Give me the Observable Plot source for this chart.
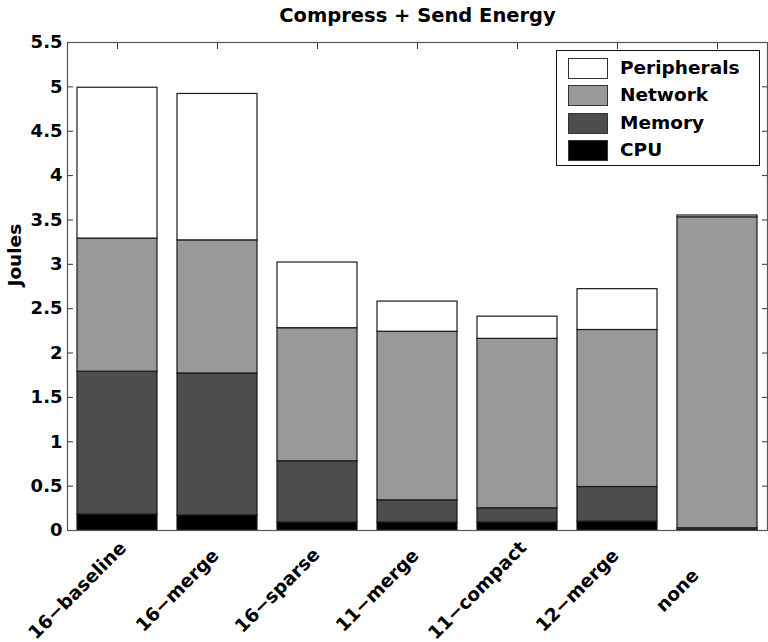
<!DOCTYPE html>
<html>
<head>
<meta charset="utf-8">
<script src="https://cdn.jsdelivr.net/npm/d3@7"></script>
<script src="https://cdn.jsdelivr.net/npm/@observablehq/plot@0.6"></script>
<style>
  html, body { margin: 0; padding: 0; background: #fff; }
  #wrap { position: relative; width: 768px; height: 642px; font-family: "DejaVu Sans", sans-serif; font-weight: bold; }
  #legend { position: absolute; left: 556px; top: 50px; width: 202px; height: 114px; border: 1px solid #111; background: #fff; }
  .sw { position: absolute; left: 11px; width: 38px; height: 19px; border: 1px solid #333; }
  .lb { position: absolute; left: 63px; font-size: 18.5px; line-height: 21px; color: #000; }
</style>
</head>
<body>
<div id="wrap"></div>
<script>
const title = "Compress + Send Energy";
const yLabel = "Joules";
const categories = ["16−baseline", "16−merge", "16−sparse", "11−merge", "11−compact", "12−merge", "none"];
const seriesNames = ["CPU", "Memory", "Network", "Peripherals"];
const seriesColors = ["#000000", "#4d4d4d", "#999999", "#ffffff"];
const cpu = [0.18, 0.17, 0.09, 0.09, 0.09, 0.10, 0.005];
const memory = [1.61, 1.60, 0.69, 0.25, 0.16, 0.39, 0.02];
const network = [1.50, 1.50, 1.50, 1.90, 1.91, 1.77, 3.505];
const peripherals = [1.70, 1.65, 0.74, 0.34, 0.25, 0.46, 0.02];
const yTicks = [0, 0.5, 1, 1.5, 2, 2.5, 3, 3.5, 4, 4.5, 5, 5.5];

const seriesValues = [cpu, memory, network, peripherals];
const data = [];
seriesNames.forEach((s, si) => {
  categories.forEach((c, ci) => data.push({category: c, series: s, value: seriesValues[si][ci]}));
});

const chart = Plot.plot({
  width: 768,
  height: 642,
  marginTop: 42,
  marginBottom: 112,
  marginLeft: 67,
  marginRight: 1,
  style: {fontFamily: "DejaVu Sans, sans-serif", fontWeight: "bold", color: "#000", background: "#fff"},
  x: {domain: categories, paddingInner: 0.2, paddingOuter: 0.1, label: null},
  y: {domain: [0, 5.5], label: null},
  color: {domain: seriesNames, range: seriesColors},
  marks: [
    Plot.axisX({anchor: "bottom", tickSize: -6, fill: "none", stroke: "#333", label: null}),
    Plot.barY(data, {x: "category", y: "value", fill: "series", stroke: "#1a1a1a", strokeWidth: 1.2}),
    Plot.axisX({anchor: "top", tickSize: -6, fill: "none", stroke: "#333", label: null}),
    Plot.axisY({anchor: "left", ticks: yTicks, tickSize: -6, fill: "none", stroke: "#333", label: null}),
    Plot.axisY({anchor: "right", ticks: yTicks, tickSize: -6, fill: "none", stroke: "#333", label: null}),
    Plot.axisY({anchor: "left", ticks: yTicks, tickSize: 0, tickPadding: 5, fontSize: 18, tickFormat: d => String(d), label: null}),
    Plot.axisX({anchor: "bottom", tickSize: 0, tickPadding: 0, tickRotate: -45, textAnchor: "middle", lineAnchor: "middle", dx: -40, dy: 60, fontSize: 18.5, label: null}),
    Plot.frame({stroke: "#555", strokeWidth: 1.2}),
    Plot.text([title], {frameAnchor: "top", text: d => d, lineAnchor: "bottom", dy: -20.5, fontSize: 19.5}),
    Plot.text([yLabel], {frameAnchor: "left", text: d => d, rotate: -90, lineAnchor: "bottom", dx: -47, fontSize: 18.5})
  ]
});

const wrap = document.getElementById("wrap");
wrap.appendChild(chart);

// legend inside the axes (top-right), top entry first
const legend = document.createElement("div");
legend.id = "legend";
const order = [3, 2, 1, 0];
const tops = [7, 34, 61.5, 89];
order.forEach((si, i) => {
  const sw = document.createElement("div");
  sw.className = "sw";
  sw.style.top = tops[i] + "px";
  sw.style.background = seriesColors[si];
  legend.appendChild(sw);
  const lb = document.createElement("div");
  lb.className = "lb";
  lb.style.top = (tops[i] - 1) + "px";
  lb.textContent = seriesNames[si];
  legend.appendChild(lb);
});
wrap.appendChild(legend);
</script>
</body>
</html>
